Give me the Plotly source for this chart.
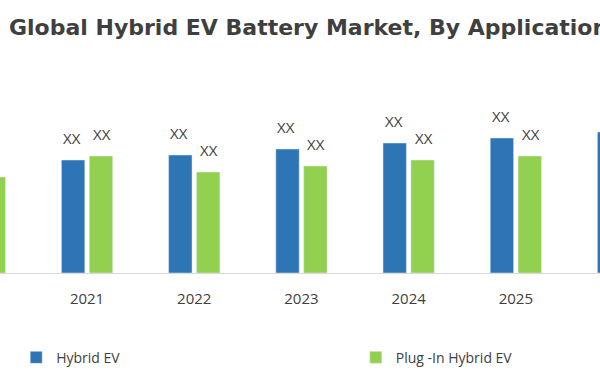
import plotly.graph_objects as go

years = ["2020", "2021", "2022", "2023", "2024", "2025", "2026"]
hybrid_ev = [139, 113, 118, 124, 130, 135, 141]
plug_in_hybrid_ev = [96, 117, 101, 107, 113, 117, 123]
bar_labels = ["XX"] * len(years)
title_text = "Global Hybrid EV Battery Market, By Application"

BLUE = "#2E75B6"
GREEN = "#92D050"
TXT = "#404040"
FONT = "Open Sans"

fig = go.Figure()
fig.add_trace(go.Bar(name="Hybrid EV", x=years, y=hybrid_ev, marker_color=BLUE,
                     hoverinfo="skip", legend="legend"))
fig.add_trace(go.Bar(name="Plug -In Hybrid EV", x=years, y=plug_in_hybrid_ev,
                     marker_color=GREEN, hoverinfo="skip", legend="legend2"))

annotations = []
for i, (h, p, lab) in enumerate(zip(hybrid_ev, plug_in_hybrid_ev, bar_labels)):
    annotations.append(dict(x=i, y=h, xref="x", yref="y", text=lab, showarrow=False,
                            xshift=-15, yshift=22,
                            font=dict(family=FONT, size=15, color=TXT)))
    annotations.append(dict(x=i, y=p, xref="x", yref="y", text=lab, showarrow=False,
                            xshift=15, yshift=22,
                            font=dict(family=FONT, size=15, color=TXT)))
annotations.append(dict(xref="paper", yref="paper", x=0.012, y=1.0, yshift=33,
                        xanchor="left", yanchor="middle", showarrow=False,
                        text="<b>" + title_text + "</b>",
                        font=dict(family="DejaVu Sans", size=22, color="#3F3F3F")))

legend_font = dict(family=FONT, size=14, color=TXT)
fig.update_layout(
    width=600, height=380,
    margin=dict(l=0, r=0, t=60, b=107, autoexpand=False),
    paper_bgcolor="white", plot_bgcolor="white",
    barmode="group", bargap=0.48, bargroupgap=0.16,
    showlegend=True,
    legend=dict(orientation="h", x=0.027, y=-0.398, yanchor="middle", xanchor="left",
                font=legend_font, bgcolor="rgba(0,0,0,0)"),
    legend2=dict(orientation="h", x=0.593, y=-0.398, yanchor="middle", xanchor="left",
                 font=legend_font, bgcolor="rgba(0,0,0,0)"),
    annotations=annotations,
    xaxis=dict(type="category", categoryorder="array", categoryarray=years,
               range=[0.188, 5.785], showline=True, linecolor="#D9D9D9", linewidth=1,
               ticks="outside", ticklen=12, tickcolor="rgba(0,0,0,0)",
               showgrid=False, zeroline=False,
               tickfont=dict(family=FONT, size=15, color=TXT)),
    yaxis=dict(range=[0, 213], visible=False, showgrid=False, zeroline=False),
)

fig.write_html("out.html", config={"displayModeBar": False},
               post_script="document.body.style.margin='0';")
